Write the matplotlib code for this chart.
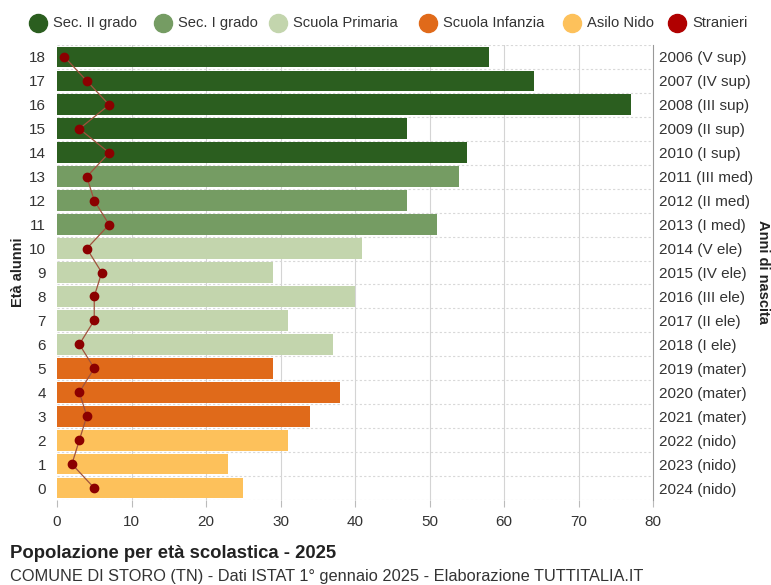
import matplotlib
matplotlib.use("Agg")
import matplotlib.pyplot as plt
from matplotlib.lines import Line2D

ages = list(range(19))
alunni = [25, 23, 31, 34, 38, 29, 37, 31, 40, 29, 41, 51, 47, 54, 55, 47, 77, 64, 58]
stranieri = [5, 2, 3, 4, 3, 5, 3, 5, 5, 6, 4, 7, 5, 4, 7, 3, 7, 4, 1]
anni = ["2024 (nido)", "2023 (nido)", "2022 (nido)", "2021 (mater)", "2020 (mater)",
        "2019 (mater)", "2018 (I ele)", "2017 (II ele)", "2016 (III ele)", "2015 (IV ele)",
        "2014 (V ele)", "2013 (I med)", "2012 (II med)", "2011 (III med)", "2010 (I sup)",
        "2009 (II sup)", "2008 (III sup)", "2007 (IV sup)", "2006 (V sup)"]
gruppi = ["Sec. II grado", "Sec. I grado", "Scuola Primaria", "Scuola Infanzia", "Asilo Nido", "Stranieri"]
colori = ["#2b5e1f", "#759c63", "#c3d5ad", "#e06a1a", "#fdc15b", "#b00000"]


def gruppo(eta):
    if eta <= 2:
        return 4
    if eta <= 5:
        return 3
    if eta <= 10:
        return 2
    if eta <= 13:
        return 1
    return 0


plt.rcParams["font.family"] = ["Liberation Sans", "DejaVu Sans"]

fig = plt.figure(figsize=(7.71, 5.85), dpi=100)
ax = fig.add_axes([57 / 771, 1 - 500 / 585, (653 - 57) / 771, (500 - 45) / 585])

bar_colors = [colori[gruppo(a)] for a in ages]
ax.barh(ages, alunni, height=0.87, color=bar_colors, zorder=2)
ax.plot(stranieri, ages, color="#a0523d", lw=0.9, zorder=3)
ax.plot(stranieri, ages, "o", color="#8b0000", ms=6, zorder=4)

ax.set_xlim(0, 80)
ax.set_ylim(-0.5, 18.5)
ax.set_xticks(range(0, 81, 10))
ax.set_yticks(ages)
ax.set_yticklabels([str(a) for a in ages])
ax.tick_params(axis="x", length=5, color="#bbbbbb", labelsize=11, labelcolor="#333333", pad=6)
ax.tick_params(axis="y", length=0, labelsize=11, labelcolor="#333333", pad=8)

for x in range(10, 80, 10):
    ax.axvline(x, color="#d4d4d4", lw=0.8, zorder=1)
for y in [a + 0.5 for a in range(-1, 19)]:
    ax.axhline(y, color="#d8d8d8", lw=0.8, ls=(0, (2, 2)), zorder=1)

for s in ["top", "bottom", "left"]:
    ax.spines[s].set_visible(False)
ax.spines["right"].set_color("#999999")
ax.spines["right"].set_linewidth(0.8)

ax2 = ax.twinx()
ax2.set_ylim(-0.5, 18.5)
ax2.set_yticks(ages)
ax2.set_yticklabels(anni)
ax2.tick_params(axis="y", length=0, labelsize=11, labelcolor="#333333", pad=4)
for s in ax2.spines.values():
    s.set_visible(False)

fig.text(18 / 771, 1 - 272 / 585, "Età alunni", rotation=90, ha="center", va="center",
         fontsize=10.5, fontweight="bold", color="#222222")
fig.text(763 / 771, 1 - 272 / 585, "Anni di nascita", rotation=-90, ha="center", va="center",
         fontsize=10.5, fontweight="bold", color="#222222")

# legenda in alto
leg_x = [38, 163, 278, 428, 572, 677]
for x, lab, c in zip(leg_x, gruppi, colori):
    fig.add_artist(Line2D([x / 771], [1 - 23 / 585], transform=fig.transFigure,
                          marker="o", ms=13, color=c, ls=""))
    fig.text((x + 15) / 771, 1 - 23 / 585, lab, ha="left", va="center",
             fontsize=10.6, color="#333333")

fig.text(10 / 771, 1 - 553 / 585, "Popolazione per età scolastica - 2025", ha="left", va="center",
         fontsize=13.3, fontweight="bold", color="#222222")
fig.text(10 / 771, 1 - 576 / 585,
         "COMUNE DI STORO (TN) - Dati ISTAT 1° gennaio 2025 - Elaborazione TUTTITALIA.IT",
         ha="left", va="center", fontsize=11.8, color="#333333")

fig.savefig("out.png", dpi=100)
